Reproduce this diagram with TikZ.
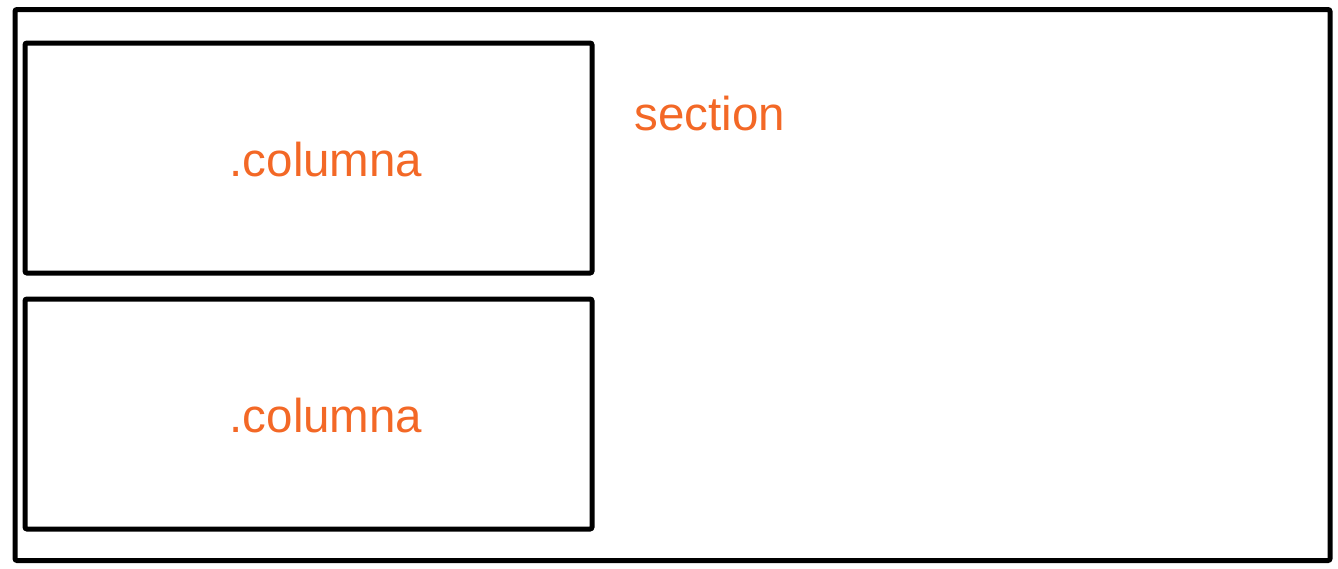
\documentclass[tikz,border=0pt]{standalone}
\usepackage{fontspec}
\setmainfont{Liberation Sans}
\definecolor{tagorange}{RGB}{243,104,38}
\begin{document}
\begin{tikzpicture}[x=1pt,y=-1pt]
    \tikzstyle{box}=[draw, line width=5pt, rounded corners=2pt, inner sep=0pt]
    \tikzstyle{tag}=[text=tagorange, font=\fontsize{47.5}{52}\selectfont, anchor=base, inner sep=0pt]

    \useasboundingbox (0,0) rectangle (1338,568);

    \node[box, minimum width=1315pt, minimum height=551pt] (section) at (672.5,285) {};
    \node[box, minimum width=567pt, minimum height=230pt] (colA) at (308.5,158) {};
    \node[box, minimum width=567pt, minimum height=230pt] (colB) at (308.5,414) {};

    \node[tag] (colAlabel) at (326,176) {.columna};
    \node[tag] (colBlabel) at (326,432) {.columna};
    \node[tag] (sectionlabel) at (710,130) {section};
  \end{tikzpicture}
\end{document}
